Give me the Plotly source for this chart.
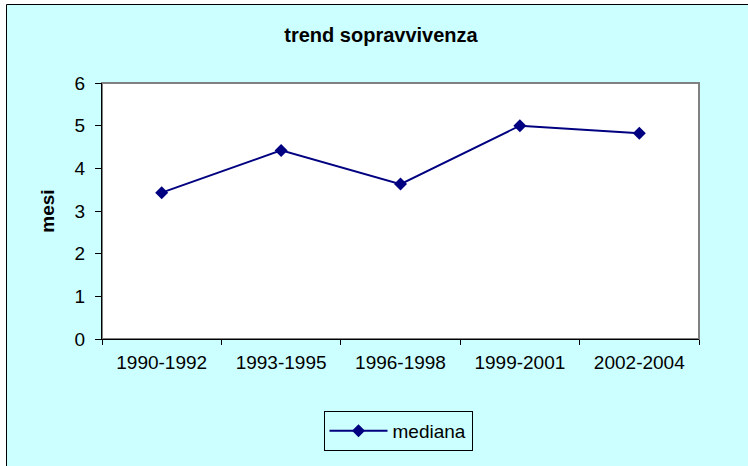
import plotly.graph_objects as go

categories = ["1990-1992", "1993-1995", "1996-1998", "1999-2001", "2002-2004"]
mediana = [3.43, 4.42, 3.63, 5.0, 4.82]

BG = "#CCFFFF"
NAVY = "#000080"
FONT = "Liberation Sans, Arial, sans-serif"

fig = go.Figure()
fig.add_trace(go.Scatter(
    x=categories, y=mediana, name="mediana", mode="lines+markers",
    line=dict(color=NAVY, width=2),
    marker=dict(symbol="diamond", size=10, color=NAVY),
))

W, H = 748, 466
L, R, T, B = 102, 49, 83, 127
pw, ph = W - L - R, H - T - B

def px_x(p):
    return (p - L) / pw

def px_y(p):
    return (H - B - p) / ph

fig.update_layout(
    width=W, height=H,
    margin=dict(l=L, r=R, t=T, b=B),
    paper_bgcolor="white", plot_bgcolor="white",
    font=dict(family=FONT, size=19, color="black"),
    title=dict(text="<b>trend sopravvivenza</b>", x=px_x(381), xref="paper", xanchor="center",
               y=1 - 35 / H, yanchor="middle", font=dict(size=20)),
    showlegend=True,
    legend=dict(orientation="h", x=px_x(398), xanchor="center", y=px_y(411), yanchor="top",
                bgcolor=BG, bordercolor="black", borderwidth=1, font=dict(size=19),
                itemwidth=58),
    shapes=[
        dict(type="rect", xref="paper", yref="paper", x0=px_x(6.5), x1=px_x(800),
             y0=px_y(520), y1=px_y(4.5), fillcolor=BG, line=dict(color="black", width=1),
             layer="below"),
        dict(type="rect", xref="paper", yref="paper", x0=0, x1=1, y0=0, y1=1,
             fillcolor="white", line=dict(color="#808080", width=2), layer="below"),
    ],
)
fig.update_xaxes(
    type="category", range=[-0.5, len(categories) - 0.5],
    tickson="boundaries", ticks="outside", ticklen=5, tickcolor="black",
    showline=True, linecolor="black", linewidth=1, showgrid=False, zeroline=False,
    tickfont=dict(size=19), ticklabelstandoff=6,
)
fig.update_yaxes(
    range=[0, 6], dtick=1, ticks="outside", ticklen=6, tickcolor="black",
    showline=True, linecolor="black", linewidth=1, showgrid=False, zeroline=False,
    title=dict(text="<b>mesi</b>", font=dict(size=19), standoff=14),
    tickfont=dict(size=19), ticklabelstandoff=6,
)

fig.write_html("out.html", config={"displayModeBar": False},
               post_script="document.body.style.margin='0';")
